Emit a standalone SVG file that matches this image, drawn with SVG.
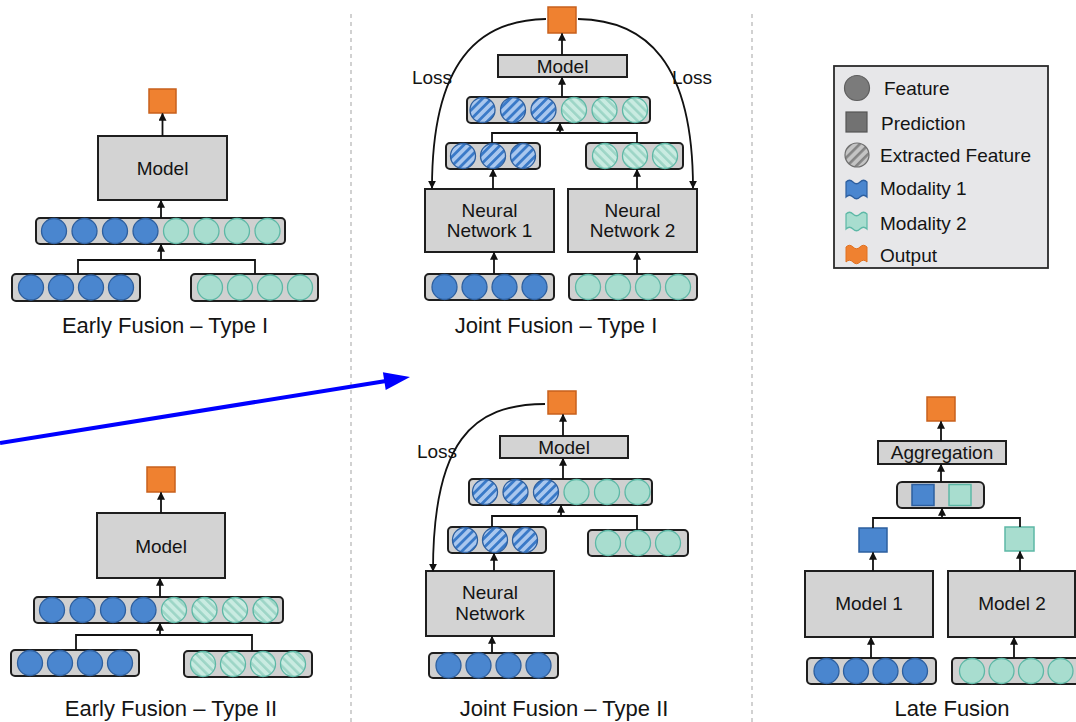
<svg xmlns="http://www.w3.org/2000/svg" width="1076" height="722" viewBox="0 0 1076 722">
<defs>
<style>
text{font-family:"Liberation Sans",Arial,sans-serif;fill:#141414;text-anchor:middle}
.lbl{font-size:22px}
.bt{font-size:19px}
.lg{font-size:19px;text-anchor:start}
.box{fill:#d3d3d3;stroke:#1e1e1e;stroke-width:2}
.bar{fill:#d0d0d0;stroke:#1e1e1e;stroke-width:2}
.b{fill:#4a86cf;stroke:#2d5f9f;stroke-width:1.3}
.t{fill:#a8ddcf;stroke:#5db8a6;stroke-width:1.3}
.hb{fill:url(#phb);stroke:#2d5f9f;stroke-width:1.3}
.ht{fill:url(#pht);stroke:#5db8a6;stroke-width:1.3}
.o{fill:#ef8130;stroke:#c8601c;stroke-width:1.5}
.bs{fill:#4a86cf;stroke:#2d5f9f;stroke-width:1.5}
.ts{fill:#a8ddcf;stroke:#5db8a6;stroke-width:1.5}
.ln{fill:none;stroke:#111;stroke-width:1.8}
.ar{fill:none;stroke:#111;stroke-width:1.8;marker-end:url(#ah)}
.sep{stroke:#b3b3b3;stroke-width:1.2;stroke-dasharray:4 4}
</style>
<marker id="ah" viewBox="0 0 10 10" refX="9" refY="5" markerWidth="8" markerHeight="8" markerUnits="userSpaceOnUse" orient="auto">
<path d="M0,0 L10,5 L0,10 z" fill="#111"/>
</marker>
<pattern id="phb" patternUnits="userSpaceOnUse" width="6.5" height="6.5" patternTransform="rotate(45)">
<rect width="6.5" height="6.5" fill="#a9c7ee"/><rect width="2.8" height="6.5" fill="#3a7ac8"/>
</pattern>
<pattern id="pht" patternUnits="userSpaceOnUse" width="6.5" height="6.5" patternTransform="rotate(-45)">
<rect width="6.5" height="6.5" fill="#c9ebe1"/><rect width="2.6" height="6.5" fill="#9dd5c6"/>
</pattern>
<pattern id="phg" patternUnits="userSpaceOnUse" width="6.5" height="6.5" patternTransform="rotate(45)">
<rect width="6.5" height="6.5" fill="#c4c4c4"/><rect width="2.6" height="6.5" fill="#848484"/>
</pattern>
</defs>
<rect width="1076" height="722" fill="#ffffff"/>

<g id="separators">
<line class="sep" x1="351" y1="14" x2="351" y2="722"/>
<line class="sep" x1="752" y1="14" x2="752" y2="722"/>
</g>

<!-- Early Fusion Type I -->
<g id="ef1-output"><rect class="o" x="149" y="89" width="27" height="24"/></g>
<g id="ef1-model"><rect class="box" x="98" y="136" width="129" height="64"/><text class="bt" x="162.5" y="174.5">Model</text></g>
<g id="ef1-concat">
<rect class="bar" x="36" y="218" width="249" height="26" rx="4"/>
<circle class="b" cx="54" cy="231" r="12.5"/><circle class="b" cx="84.5" cy="231" r="12.5"/><circle class="b" cx="115" cy="231" r="12.5"/><circle class="b" cx="145.5" cy="231" r="12.5"/>
<circle class="t" cx="176" cy="231" r="12.5"/><circle class="t" cx="206.5" cy="231" r="12.5"/><circle class="t" cx="237" cy="231" r="12.5"/><circle class="t" cx="267.5" cy="231" r="12.5"/>
</g>
<g id="ef1-mod1">
<rect class="bar" x="12" y="274" width="128" height="27" rx="4"/>
<circle class="b" cx="31" cy="287.5" r="12.5"/><circle class="b" cx="61" cy="287.5" r="12.5"/><circle class="b" cx="91" cy="287.5" r="12.5"/><circle class="b" cx="121" cy="287.5" r="12.5"/>
</g>
<g id="ef1-mod2">
<rect class="bar" x="191" y="274" width="127" height="27" rx="4"/>
<circle class="t" cx="210" cy="287.5" r="12.5"/><circle class="t" cx="240" cy="287.5" r="12.5"/><circle class="t" cx="270" cy="287.5" r="12.5"/><circle class="t" cx="300" cy="287.5" r="12.5"/>
</g>
<g id="ef1-label"><text class="lbl" x="165" y="333">Early Fusion – Type I</text></g>

<!-- Early Fusion Type II -->
<g id="ef2-output"><rect class="o" x="147" y="467" width="28" height="25"/></g>
<g id="ef2-model"><rect class="box" x="97" y="513" width="128" height="65"/><text class="bt" x="161" y="553">Model</text></g>
<g id="ef2-concat">
<rect class="bar" x="34" y="597" width="249" height="26" rx="4"/>
<circle class="b" cx="52" cy="610" r="12.5"/><circle class="b" cx="82.5" cy="610" r="12.5"/><circle class="b" cx="113" cy="610" r="12.5"/><circle class="b" cx="143.5" cy="610" r="12.5"/>
<circle class="ht" cx="174" cy="610" r="12.5"/><circle class="ht" cx="204.5" cy="610" r="12.5"/><circle class="ht" cx="235" cy="610" r="12.5"/><circle class="ht" cx="265.5" cy="610" r="12.5"/>
</g>
<g id="ef2-mod1">
<rect class="bar" x="11" y="650" width="128" height="26" rx="4"/>
<circle class="b" cx="30" cy="663" r="12.5"/><circle class="b" cx="60" cy="663" r="12.5"/><circle class="b" cx="90" cy="663" r="12.5"/><circle class="b" cx="120" cy="663" r="12.5"/>
</g>
<g id="ef2-mod2">
<rect class="bar" x="184" y="651" width="128" height="26" rx="4"/>
<circle class="ht" cx="203" cy="664" r="12.5"/><circle class="ht" cx="233" cy="664" r="12.5"/><circle class="ht" cx="263" cy="664" r="12.5"/><circle class="ht" cx="293" cy="664" r="12.5"/>
</g>
<g id="ef2-label"><text class="lbl" x="171" y="716">Early Fusion – Type II</text></g>

<!-- Joint Fusion Type I -->
<g id="jf1-output"><rect class="o" x="548" y="7" width="28" height="26"/></g>
<g id="jf1-model"><rect class="box" x="498" y="55" width="129" height="22"/><text class="bt" x="562.5" y="72.5">Model</text></g>
<g id="jf1-concat">
<rect class="bar" x="467" y="97" width="183" height="26" rx="4"/>
<circle class="hb" cx="482.5" cy="110" r="12.5"/><circle class="hb" cx="513" cy="110" r="12.5"/><circle class="hb" cx="543.5" cy="110" r="12.5"/>
<circle class="ht" cx="574" cy="110" r="12.5"/><circle class="ht" cx="604.5" cy="110" r="12.5"/><circle class="ht" cx="635" cy="110" r="12.5"/>
</g>
<g id="jf1-ext1">
<rect class="bar" x="446" y="143" width="94" height="26" rx="4"/>
<circle class="hb" cx="463" cy="156" r="12.5"/><circle class="hb" cx="493" cy="156" r="12.5"/><circle class="hb" cx="523" cy="156" r="12.5"/>
</g>
<g id="jf1-ext2">
<rect class="bar" x="586" y="143" width="97" height="26" rx="4"/>
<circle class="ht" cx="605" cy="156" r="12.5"/><circle class="ht" cx="635" cy="156" r="12.5"/><circle class="ht" cx="665" cy="156" r="12.5"/>
</g>
<g id="jf1-nn1"><rect class="box" x="425" y="189" width="129" height="63"/><text class="bt" x="489.5" y="216.5">Neural</text><text class="bt" x="489.5" y="237">Network 1</text></g>
<g id="jf1-nn2"><rect class="box" x="568" y="189" width="129" height="63"/><text class="bt" x="632.5" y="216.5">Neural</text><text class="bt" x="632.5" y="237">Network 2</text></g>
<g id="jf1-mod1">
<rect class="bar" x="425" y="274" width="129" height="26" rx="4"/>
<circle class="b" cx="444.5" cy="287" r="12.5"/><circle class="b" cx="474.5" cy="287" r="12.5"/><circle class="b" cx="504.5" cy="287" r="12.5"/><circle class="b" cx="534.5" cy="287" r="12.5"/>
</g>
<g id="jf1-mod2">
<rect class="bar" x="569" y="274" width="128" height="26" rx="4"/>
<circle class="t" cx="588" cy="287" r="12.5"/><circle class="t" cx="618" cy="287" r="12.5"/><circle class="t" cx="648" cy="287" r="12.5"/><circle class="t" cx="678" cy="287" r="12.5"/>
</g>
<g id="jf1-loss"><text class="bt" x="432" y="83.5">Loss</text><text class="bt" x="692" y="83.5">Loss</text></g>
<g id="jf1-label"><text class="lbl" x="556" y="333">Joint Fusion – Type I</text></g>

<!-- Joint Fusion Type II -->
<g id="jf2-output"><rect class="o" x="548" y="391" width="28" height="23"/></g>
<g id="jf2-model"><rect class="box" x="500" y="436" width="128" height="22"/><text class="bt" x="564" y="453.5">Model</text></g>
<g id="jf2-concat">
<rect class="bar" x="469" y="479" width="183" height="26" rx="4"/>
<circle class="hb" cx="485" cy="492" r="12.5"/><circle class="hb" cx="515.5" cy="492" r="12.5"/><circle class="hb" cx="546" cy="492" r="12.5"/>
<circle class="t" cx="576.5" cy="492" r="12.5"/><circle class="t" cx="607" cy="492" r="12.5"/><circle class="t" cx="637.5" cy="492" r="12.5"/>
</g>
<g id="jf2-ext1">
<rect class="bar" x="448" y="527" width="98" height="26" rx="4"/>
<circle class="hb" cx="465" cy="540" r="12.5"/><circle class="hb" cx="495" cy="540" r="12.5"/><circle class="hb" cx="525" cy="540" r="12.5"/>
</g>
<g id="jf2-mod2">
<rect class="bar" x="588" y="530" width="100" height="26" rx="4"/>
<circle class="t" cx="608" cy="543" r="12.5"/><circle class="t" cx="638" cy="543" r="12.5"/><circle class="t" cx="668" cy="543" r="12.5"/>
</g>
<g id="jf2-nn"><rect class="box" x="426" y="571" width="128" height="65"/><text class="bt" x="490" y="598.5">Neural</text><text class="bt" x="490" y="619.5">Network</text></g>
<g id="jf2-mod1">
<rect class="bar" x="429" y="653" width="129" height="25" rx="4"/>
<circle class="b" cx="448.5" cy="665.5" r="12.5"/><circle class="b" cx="478.5" cy="665.5" r="12.5"/><circle class="b" cx="508.5" cy="665.5" r="12.5"/><circle class="b" cx="538.5" cy="665.5" r="12.5"/>
</g>
<g id="jf2-loss"><text class="bt" x="437" y="457.5">Loss</text></g>
<g id="jf2-label"><text class="lbl" x="564" y="716">Joint Fusion – Type II</text></g>

<!-- Late Fusion -->
<g id="lf-output"><rect class="o" x="927" y="397" width="28" height="24"/></g>
<g id="lf-agg"><rect class="box" x="878" y="441" width="128" height="23"/><text class="bt" x="942" y="459">Aggregation</text></g>
<g id="lf-preds">
<rect class="bar" x="897" y="482" width="87" height="26" rx="5"/>
<rect class="bs" x="912" y="484.5" width="22" height="21"/>
<rect class="ts" x="949" y="484.5" width="22" height="21"/>
</g>
<g id="lf-pred1"><rect class="bs" x="859" y="528" width="28" height="24"/></g>
<g id="lf-pred2"><rect class="ts" x="1005" y="527" width="29" height="24"/></g>
<g id="lf-model1"><rect class="box" x="805" y="571" width="128" height="66"/><text class="bt" x="869" y="610">Model 1</text></g>
<g id="lf-model2"><rect class="box" x="948" y="571" width="127" height="66"/><text class="bt" x="1012" y="610">Model 2</text></g>
<g id="lf-mod1">
<rect class="bar" x="807" y="658" width="129" height="26" rx="4"/>
<circle class="b" cx="826.5" cy="671" r="12.5"/><circle class="b" cx="856" cy="671" r="12.5"/><circle class="b" cx="885.5" cy="671" r="12.5"/><circle class="b" cx="915" cy="671" r="12.5"/>
</g>
<g id="lf-mod2">
<rect class="bar" x="952" y="658" width="132" height="26" rx="4"/>
<circle class="t" cx="972" cy="671" r="12.5"/><circle class="t" cx="1001.5" cy="671" r="12.5"/><circle class="t" cx="1031" cy="671" r="12.5"/><circle class="t" cx="1060.5" cy="671" r="12.5"/>
</g>
<g id="lf-label"><text class="lbl" x="952" y="716">Late Fusion</text></g>

<!-- Legend -->
<g id="legend">
<rect x="834" y="66" width="214" height="202" fill="#e7e7e9" stroke="#2a2a2a" stroke-width="1.8"/>
<circle cx="857" cy="88" r="12.5" fill="#7b7b7b" stroke="#5e5e5e" stroke-width="1.2"/>
<text class="lg" x="884" y="95">Feature</text>
<rect x="846" y="112" width="21" height="20" fill="#727272" stroke="#555" stroke-width="1.2"/>
<text class="lg" x="881" y="129.5">Prediction</text>
<circle cx="857" cy="155" r="12" fill="url(#phg)" stroke="#6e6e6e" stroke-width="1.2"/>
<text class="lg" x="880" y="162">Extracted Feature</text>
<path d="M846,182 Q849.5,178.5 853,182 T860,182 T867,182 V197 Q863.5,193.5 860,197 T853,197 T846,197 Z" fill="#4a86cf" stroke="#2d5f9f" stroke-width="1.2"/>
<text class="lg" x="880" y="195">Modality 1</text>
<path d="M846,214 Q849.5,210.5 853,214 T860,214 T867,214 V229 Q863.5,225.5 860,229 T853,229 T846,229 Z" fill="#a8ddcf" stroke="#5db8a6" stroke-width="1.2"/>
<text class="lg" x="880" y="230">Modality 2</text>
<path d="M846,247 Q849.5,243.5 853,247 T860,247 T867,247 V262 Q863.5,258.5 860,262 T853,262 T846,262 Z" fill="#ef8130" stroke="#e07020" stroke-width="1"/>
<text class="lg" x="880" y="262">Output</text>
</g>

<g id="connectors">
<!-- EF1 -->
<line class="ar" x1="162.5" y1="136" x2="162.5" y2="113.5"/>
<line class="ar" x1="161" y1="218" x2="161" y2="200.5"/>
<polyline class="ln" points="78,274 78,260 255,260 255,274"/>
<line class="ar" x1="161" y1="260" x2="161" y2="244.5"/>
<!-- EF2 -->
<line class="ar" x1="161" y1="513" x2="161" y2="492.5"/>
<line class="ar" x1="160" y1="597" x2="160" y2="578.5"/>
<polyline class="ln" points="76,650 76,635 252,635 252,651"/>
<line class="ar" x1="160" y1="635" x2="160" y2="623.5"/>
<!-- JF1 -->
<line class="ar" x1="562" y1="55" x2="562" y2="33.5"/>
<line class="ar" x1="562" y1="97" x2="562" y2="77.5"/>
<polyline class="ln" points="492,143 492,133 637,133 637,143"/>
<line class="ar" x1="560" y1="133" x2="560" y2="123.5"/>
<line class="ar" x1="493" y1="189" x2="493" y2="169.5"/>
<line class="ar" x1="637" y1="189" x2="637" y2="169.5"/>
<line class="ar" x1="494" y1="274" x2="494" y2="252.5"/>
<line class="ar" x1="637" y1="274" x2="637" y2="252.5"/>
<path class="ar" d="M546,19 C478,20 432,62 432,188"/>
<path class="ar" d="M578,19 C646,20 693,62 693,188"/>
<!-- JF2 -->
<line class="ar" x1="563" y1="436" x2="563" y2="414.5"/>
<line class="ar" x1="563" y1="479" x2="563" y2="458.5"/>
<polyline class="ln" points="492,527 492,516 637,516 637,530"/>
<line class="ar" x1="561" y1="516" x2="561" y2="505.5"/>
<line class="ar" x1="494" y1="571" x2="494" y2="553.5"/>
<line class="ar" x1="492" y1="653" x2="492" y2="636.5"/>
<path class="ar" d="M545,404 C472,404 433,442 433,571"/>
<!-- LF -->
<line class="ar" x1="941" y1="441" x2="941" y2="421.5"/>
<line class="ar" x1="941" y1="482" x2="941" y2="464.5"/>
<polyline class="ln" points="873,528 873,518 1020,518 1020,527"/>
<line class="ar" x1="942" y1="518" x2="942" y2="508.5"/>
<line class="ar" x1="873" y1="571" x2="873" y2="552.5"/>
<line class="ar" x1="1020" y1="571" x2="1020" y2="551.5"/>
<line class="ar" x1="871" y1="658" x2="871" y2="637.5"/>
<line class="ar" x1="1014" y1="658" x2="1014" y2="637.5"/>
<!-- blue annotation arrow -->
<line x1="0" y1="443" x2="386" y2="381" stroke="#0000ff" stroke-width="4"/>
<polygon points="410,377 385.7,390 382.9,372.2" fill="#0000ff"/>
</g>
</svg>
